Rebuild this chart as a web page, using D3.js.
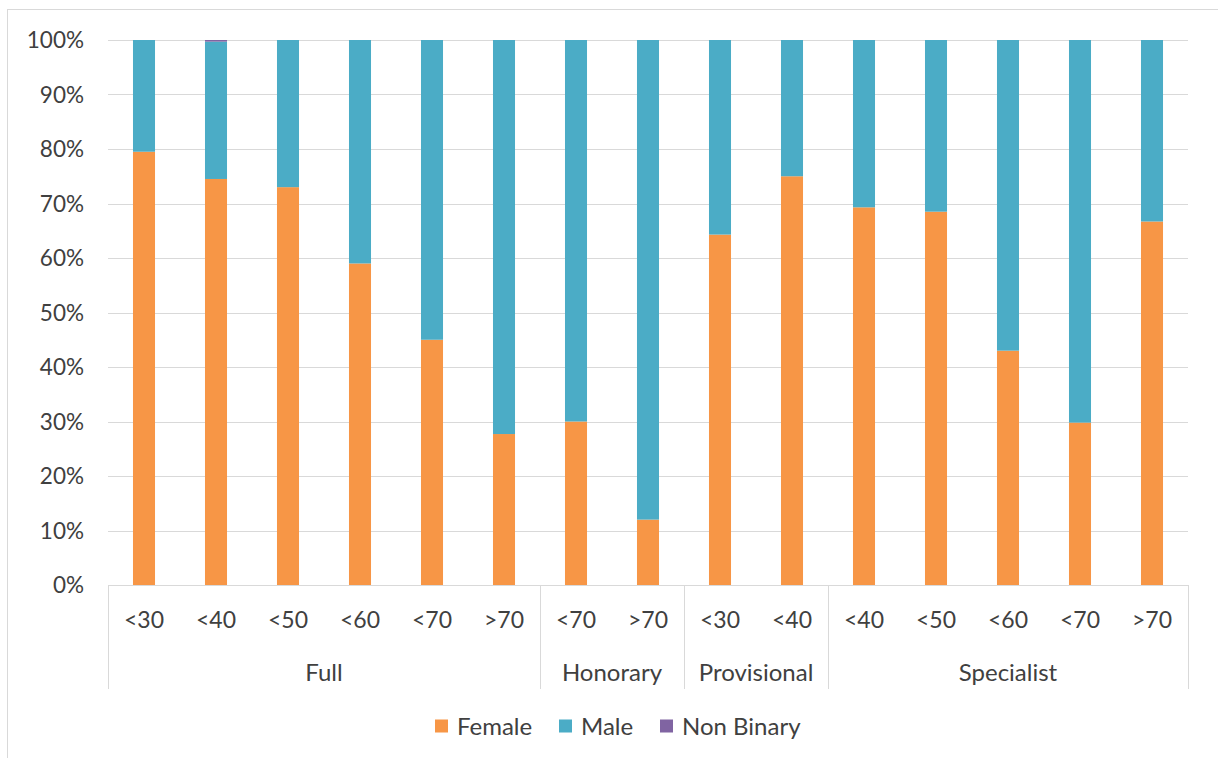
<!DOCTYPE html>
<html>
<head>
<meta charset="utf-8">
<script src="https://cdn.jsdelivr.net/npm/d3@7"></script>
<style>
  body { margin: 0; background: #fff; }
  text { font-family: Lato, "Open Sans", sans-serif; fill: #404040; }
</style>
</head>
<body>
<svg id="chart" width="1218" height="758"></svg>
<script>
const groups = ["Full", "Full", "Full", "Full", "Full", "Full", "Honorary", "Honorary", "Provisional", "Provisional", "Specialist", "Specialist", "Specialist", "Specialist", "Specialist"];
const ages = ["<30", "<40", "<50", "<60", "<70", ">70", "<70", ">70", "<30", "<40", "<40", "<50", "<60", "<70", ">70"];
const female = [79.5, 74.5, 73.0, 59.0, 45.0, 27.7, 30.0, 12.0, 64.3, 75.0, 69.3, 68.5, 43.0, 29.8, 66.7];
const nonBinary = [0, 0.3, 0, 0, 0, 0, 0, 0, 0, 0, 0, 0, 0, 0, 0];
const male = [20.5, 25.2, 27.0, 41.0, 55.0, 72.3, 70.0, 88.0, 35.7, 25.0, 30.7, 31.5, 57.0, 70.2, 33.3];
const seriesNames = ["Female", "Male", "Non Binary"];
const seriesColors = ["#F79646", "#4BACC6", "#8064A2"];
const yTicks = [0, 10, 20, 30, 40, 50, 60, 70, 80, 90, 100];

const svg = d3.select("#chart");
const plotLeft = 108, plotRight = 1188, plotTop = 40, plotBottom = 585;

svg.append("rect").attr("x", 7.5).attr("y", 9.5).attr("width", 1230).attr("height", 760)
  .attr("fill", "#fff").attr("stroke", "#D9D9D9");

const keys = ages.map((a, i) => i);
const x = d3.scaleBand().domain(keys).range([plotLeft, plotRight]).paddingInner(0.694).paddingOuter(0.347);
const y = d3.scaleLinear().domain([0, 100]).range([plotBottom, plotTop]);

// gridlines
svg.append("g").selectAll("line").data(yTicks).join("line")
  .attr("x1", plotLeft).attr("x2", plotRight)
  .attr("y1", d => Math.round(y(d)) + 0.5).attr("y2", d => Math.round(y(d)) + 0.5)
  .attr("stroke", "#D9D9D9").attr("stroke-width", 1);

// y labels
svg.append("g").selectAll("text").data(yTicks).join("text")
  .attr("x", 84).attr("y", d => y(d)).attr("dy", "0.36em")
  .attr("text-anchor", "end").attr("font-size", 22.5)
  .text(d => d + "%");

// stacked data
const rows = keys.map(i => ({ key: i, Female: female[i], Male: male[i], "Non Binary": nonBinary[i] }));
const stack = d3.stack().keys(seriesNames)(rows);
const color = d3.scaleOrdinal().domain(seriesNames).range(seriesColors);

svg.append("g").selectAll("g").data(stack).join("g")
  .attr("fill", d => color(d.key))
  .selectAll("rect").data(d => d).join("rect")
  .attr("x", d => x(d.data.key))
  .attr("width", x.bandwidth())
  .attr("y", d => y(d[1]))
  .attr("height", d => Math.max(0, y(d[0]) - y(d[1])));

// category axis
const step = x.step();
svg.append("g").selectAll("text").data(keys).join("text")
  .attr("x", d => x(d) + x.bandwidth() / 2).attr("y", 620).attr("dy", "0.36em")
  .attr("text-anchor", "middle").attr("font-size", 23)
  .text(d => ages[d]);

// groups
const groupNames = [];
groups.forEach((g, i) => {
  const last = groupNames[groupNames.length - 1];
  if (!last || last.name !== g) groupNames.push({ name: g, start: i, end: i });
  else last.end = i;
});
const boundaries = [plotLeft];
groupNames.forEach(g => boundaries.push(x(g.end) - x.paddingInner() * step / 2 + step));
const gAxis = svg.append("g");
gAxis.selectAll("line").data(boundaries).join("line")
  .attr("x1", d => Math.round(d) + 0.5).attr("x2", d => Math.round(d) + 0.5)
  .attr("y1", plotBottom).attr("y2", 689)
  .attr("stroke", "#D9D9D9");
gAxis.selectAll("text").data(groupNames).join("text")
  .attr("x", g => (x(g.start) + x(g.end) + x.bandwidth()) / 2).attr("y", 672).attr("dy", "0.36em")
  .attr("text-anchor", "middle").attr("font-size", 24)
  .text(g => g.name);

// axis line
svg.append("line").attr("x1", plotLeft).attr("x2", plotRight)
  .attr("y1", Math.round(y(0)) + 0.5).attr("y2", Math.round(y(0)) + 0.5)
  .attr("stroke", "#D9D9D9");

// legend
const legendX = [435, 559, 660];
const lg = svg.append("g").selectAll("g").data(seriesNames).join("g")
  .attr("transform", (d, i) => `translate(${legendX[i]},726)`);
lg.append("rect").attr("x", 0).attr("y", -6.5).attr("width", 13).attr("height", 13)
  .attr("fill", d => color(d));
lg.append("text").attr("x", 22).attr("y", 0).attr("dy", "0.36em").attr("font-size", 24).text(d => d);
</script>
</body>
</html>
